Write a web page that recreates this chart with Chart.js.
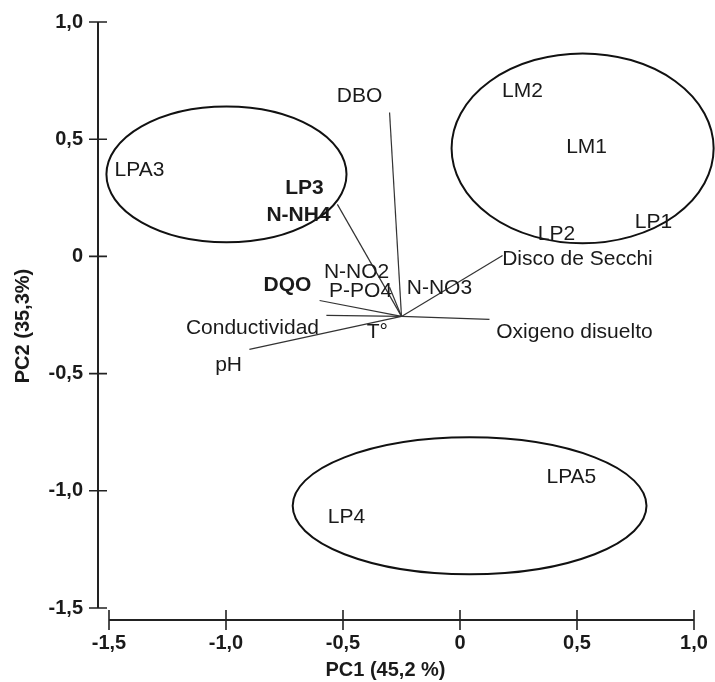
<!DOCTYPE html>
<html>
<head>
<meta charset="utf-8">
<script src="https://cdn.jsdelivr.net/npm/chart.js@4.4.0/dist/chart.umd.min.js"></script>
<style>
    html, body { margin: 0; padding: 0; background: #fff; }
    #wrap { width: 715px; height: 682px; }
</style>
</head>
<body>
<div id="wrap"><canvas id="pca"></canvas></div>
<script>
// PCA biplot: sample scores, variable loadings and group ellipses
var xTicks = [-1.5, -1.0, -0.5, 0, 0.5, 1.0];
var xTickLabels = ['-1,5', '-1,0', '-0,5', '0', '0,5', '1,0'];
var yTicks = [-1.5, -1.0, -0.5, 0, 0.5, 1.0];
var yTickLabels = ['-1,5', '-1,0', '-0,5', '0', '0,5', '1,0'];

var xTitle = 'PC1 (45,2 %)';
var yTitle = 'PC2 (35,3%)';

var sampleNames = ['LPA3', 'LP3', 'LM2', 'LM1', 'LP1', 'LP2', 'LPA5', 'LP4'];
var sampleX     = [-1.370, -0.665, 0.267, 0.541, 0.827, 0.412, 0.476, -0.485];
var sampleY     = [0.367, 0.290, 0.704, 0.465, 0.145, 0.094, -0.943, -1.113];

var varNames = ['DBO', 'N-NH4', 'N-NO2', 'DQO', 'P-PO4', 'N-NO3', 'Disco de Secchi', 'T°', 'Conductividad', 'Oxigeno disuelto', 'pH'];
var varX     = [-0.429, -0.690, -0.442, -0.737, -0.425, -0.088, 0.502, -0.353, -0.887, 0.489, -0.989];
var varY     = [0.683, 0.175, -0.068, -0.124, -0.149, -0.137, -0.013, -0.324, -0.307, -0.324, -0.465];

// loading vectors all start at the same point
var vectorOriginX = -0.250;
var vectorOriginY = -0.256;
var vectorNames = ['DBO', 'N-NH4', 'DQO', 'P-PO4', 'Conductividad', 'pH', 'Disco de Secchi', 'Oxigeno disuelto'];
var vectorX     = [-0.301, -0.524, -0.600, -0.301, -0.571, -0.900, 0.182, 0.126];
var vectorY     = [0.614, 0.222, -0.188, -0.132, -0.252, -0.397, 0.004, -0.269];

// group ellipses (centre and radii in axis units)
var ellipseCX = [-0.998, 0.524, 0.041];
var ellipseCY = [0.350, 0.461, -1.064];
var ellipseRX = [0.513, 0.560, 0.756];
var ellipseRY = [0.290, 0.405, 0.292];

var boldLabels = ['LP3', 'N-NH4', 'DQO'];

var FONT = "'Liberation Sans', Arial, sans-serif";
var INK = '#1a1a1a';

function toPoints(xs, ys) {
    return xs.map(function (x, i) { return { x: x, y: ys[i] }; });
}

var datasets = [];
vectorNames.forEach(function (name, i) {
    datasets.push({
        label: name,
        data: [{ x: vectorOriginX, y: vectorOriginY }, { x: vectorX[i], y: vectorY[i] }],
        showLine: true,
        borderColor: '#333',
        borderWidth: 1.2,
        pointRadius: 0
    });
});
datasets.push({ label: 'samples', data: toPoints(sampleX, sampleY), pointRadius: 0, names: sampleNames });
datasets.push({ label: 'variables', data: toPoints(varX, varY), pointRadius: 0, names: varNames });

var biplotPlugin = {
    id: 'biplot',
    afterDraw: function (chart) {
        var ctx = chart.ctx;
        var xs = chart.scales.x, ys = chart.scales.y;
        var area = chart.chartArea;
        ctx.save();

        // ellipses
        ctx.strokeStyle = '#111';
        ctx.lineWidth = 2;
        ellipseCX.forEach(function (cx, i) {
            var px = xs.getPixelForValue(cx);
            var py = ys.getPixelForValue(ellipseCY[i]);
            var rx = Math.abs(xs.getPixelForValue(cx + ellipseRX[i]) - px);
            var ry = Math.abs(ys.getPixelForValue(ellipseCY[i] + ellipseRY[i]) - py);
            ctx.beginPath();
            ctx.ellipse(px, py, rx, ry, 0, 0, Math.PI * 2);
            ctx.stroke();
        });

        // point labels
        ctx.fillStyle = INK;
        ctx.textAlign = 'center';
        ctx.textBaseline = 'middle';
        chart.data.datasets.forEach(function (ds, di) {
            if (!ds.names) return;
            var meta = chart.getDatasetMeta(di);
            meta.data.forEach(function (el, j) {
                var name = ds.names[j];
                ctx.font = (boldLabels.indexOf(name) >= 0 ? 'bold ' : '') + '21px ' + FONT;
                ctx.fillText(name, el.x, el.y);
            });
        });

        // detached axes
        ctx.strokeStyle = '#222';
        var axX = area.left - 11;
        var axY = area.bottom + 12;
        ctx.lineWidth = 2;
        ctx.beginPath();
        ctx.moveTo(axX, ys.getPixelForValue(yTicks[yTicks.length - 1]));
        ctx.lineTo(axX, ys.getPixelForValue(yTicks[0]));
        ctx.moveTo(xs.getPixelForValue(xTicks[0]), axY);
        ctx.lineTo(xs.getPixelForValue(xTicks[xTicks.length - 1]), axY);
        ctx.stroke();
        ctx.lineWidth = 1.6;
        ctx.beginPath();
        yTicks.forEach(function (v) {
            var p = ys.getPixelForValue(v);
            ctx.moveTo(axX - 9, p);
            ctx.lineTo(axX + 9, p);
        });
        xTicks.forEach(function (v) {
            var p = xs.getPixelForValue(v);
            ctx.moveTo(p, axY - 10);
            ctx.lineTo(p, axY + 10);
        });
        ctx.stroke();

        // axis titles
        ctx.font = 'bold 20px ' + FONT;
        ctx.fillStyle = INK;
        ctx.fillText(xTitle, (area.left + area.right) / 2 - 16, 670);
        ctx.translate(23, (area.top + area.bottom) / 2 + 11);
        ctx.rotate(-Math.PI / 2);
        ctx.fillText(yTitle, 0, 0);
        ctx.restore();
    }
};

new Chart(document.getElementById('pca'), {
    type: 'scatter',
    data: { datasets: datasets },
    plugins: [biplotPlugin],
    options: {
        responsive: true,
        maintainAspectRatio: false,
        animation: false,
        events: [],
        layout: { padding: { top: 22, right: 21, left: 0, bottom: 0 } },
        plugins: { legend: { display: false }, tooltip: { enabled: false } },
        scales: {
            x: {
                type: 'linear',
                min: xTicks[0],
                max: xTicks[xTicks.length - 1],
                grid: { display: false, drawTicks: false },
                border: { display: false },
                afterBuildTicks: function (s) { s.ticks = xTicks.map(function (v) { return { value: v }; }); },
                afterFit: function (s) { s.height = 74; s.paddingLeft = 0; s.paddingRight = 0; },
                ticks: {
                    autoSkip: false,
                    maxRotation: 0,
                    padding: 23,
                    color: INK,
                    font: { family: FONT, size: 20, weight: 'bold' },
                    callback: function (v, i) { return xTickLabels[i]; }
                }
            },
            y: {
                type: 'linear',
                min: yTicks[0],
                max: yTicks[yTicks.length - 1],
                grid: { display: false, drawTicks: false },
                border: { display: false },
                afterBuildTicks: function (s) { s.ticks = yTicks.map(function (v) { return { value: v }; }); },
                afterFit: function (s) { s.width = 109; s.paddingTop = 0; s.paddingBottom = 0; },
                ticks: {
                    autoSkip: false,
                    padding: 26,
                    color: INK,
                    font: { family: FONT, size: 20, weight: 'bold' },
                    callback: function (v, i) { return yTickLabels[i]; }
                }
            }
        }
    }
});
</script>
</body>
</html>
